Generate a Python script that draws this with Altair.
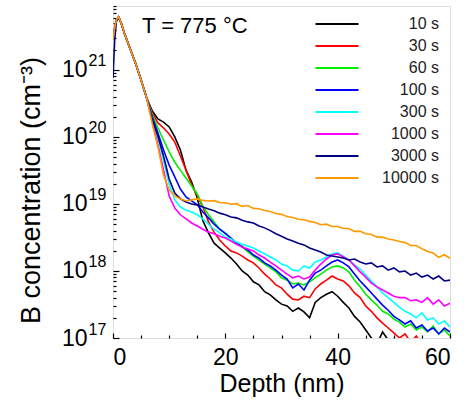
import altair as alt
import pandas as pd

SERIES = ["10 s", "30 s", "60 s", "100 s", "300 s", "1000 s", "3000 s", "10000 s"]
COLORS = ["#000000", "#ff0000", "#00ee00", "#0000ff", "#00ffff", "#ff00ff", "#000080", "#ff9900"]

# near-surface part (shared by all anneals)
HEAD_DEPTH = [0, 0.3, 0.6, 1.0, 1.5, 2, 3, 4, 5, 6]
HEAD_CONC = [2.8e21, 4.2e21, 5.6e21, 6.2e21, 4.9e21, 3.6e21, 2.13e21, 1.27e21, 7.1e20, 3.8e20]
HEAD_CONC_3000 = [7.6e20, 2.8e21, 5.3e21, 6.0e21, 4.9e21, 3.6e21, 2.13e21, 1.27e21, 7.1e20, 3.8e20]

TAIL_DEPTH = [7, 8, 9, 10, 11, 12, 13, 14, 15, 16, 17, 18, 19, 20, 21, 22, 23, 24, 25, 26,
              27, 28, 29, 30, 31, 32, 33, 34, 35, 36, 37, 38, 39, 40, 41, 42, 43, 44, 45, 46,
              47, 48, 49, 50, 51, 52, 53, 54, 55, 56, 57, 58, 59, 60]

C_10 = [2.44e20, 1.86e20, 1.67e20, 1.41e20, 1.0e20, 6.4e19, 3.2e19, 2.13e19, 1.23e19, 5.6e18,
        3.7e18, 2.6e18, 2.2e18, 1.86e18, 1.56e18, 1.27e18, 1.0e18, 8.7e17, 6.9e17, 6.2e17,
        4.9e17, 4.4e17, 3.7e17, 3.2e17, 3.0e17, 2.5e17, 2.8e17, 2.45e17, 2.0e17, 3.4e17,
        4.0e17, 4.5e17, 4.9e17, 4.2e17, 3.4e17, 2.8e17, 2.1e17, 1.73e17, 1.32e17, 1.0e17,
        8.1e16, 1.23e17, 9.3e16, 6.6e16, 5.0e16]
C_30 = [2.28e20, 1.62e20, 1.36e20, 1.11e20, 8.4e19, 5.2e19, 3.2e19, 1.92e19, 1.32e19, 9.0e18,
        5.4e18, 3.8e18, 2.9e18, 2.36e18, 1.99e18, 1.86e18, 1.67e18, 1.46e18, 1.32e18, 1.11e18,
        9.0e17, 7.6e17, 6.2e17, 5.6e17, 4.5e17, 3.8e17, 3.7e17, 4.2e17, 4.0e17, 5.4e17,
        6.4e17, 7.3e17, 8.4e17, 7.6e17, 7.1e17, 6.0e17, 4.7e17, 4.0e17, 3.0e17, 2.5e17,
        2.0e17, 1.67e17, 1.41e17, 1.19e17, 1.0e17, 1.15e17, 8.7e16, 1.07e17, 7.9e16, 6.6e16]
C_60 = [2.13e20, 1.36e20, 9.0e19, 6.0e19, 4.2e19, 3.2e19, 2.44e19, 1.86e19, 1.41e19, 9.3e18,
        6.9e18, 5.4e18, 4.2e18, 3.7e18, 3.1e18, 2.5e18, 2.36e18, 1.92e18, 1.67e18, 1.46e18,
        1.27e18, 1.11e18, 9.7e17, 7.9e17, 7.3e17, 6.4e17, 6.6e17, 6.2e17, 6.9e17, 7.9e17,
        9.0e17, 1.03e18, 1.15e18, 1.19e18, 1.11e18, 9.7e17, 7.3e17, 5.8e17, 4.5e17, 3.7e17,
        3.1e17, 2.5e17, 2.28e17, 1.92e17, 1.73e17, 1.46e17, 1.62e17, 1.32e17, 1.46e17, 1.23e17,
        1.51e17, 1.15e17, 1.32e17, 1.07e17]
C_100 = [1.99e20, 1.15e20, 6.4e19, 3.8e19, 2.53e19, 1.67e19, 1.27e19, 1.11e19, 9.7e18, 7.6e18,
         6.2e18, 5.0e18, 4.2e18, 3.6e18, 3.1e18, 2.6e18, 2.28e18, 2.06e18, 1.73e18, 1.56e18,
         1.32e18, 1.19e18, 1.03e18, 8.7e17, 7.6e17, 5.6e17, 6.4e17, 5.2e17, 7.3e17, 9.3e17,
         1.03e18, 1.19e18, 1.36e18, 1.46e18, 1.32e18, 1.15e18, 9.0e17, 7.1e17, 5.8e17, 4.7e17,
         3.8e17, 3.1e17, 2.6e17, 2.1e17, 1.86e17, 1.62e17, 1.8e17, 1.41e17, 1.56e17, 1.27e17,
         1.41e17, 1.15e17, 1.41e17, 1.23e17]
C_300 = [1.8e20, 9.7e19, 4.5e19, 1.99e19, 1.15e19, 9.0e18, 8.1e18, 7.6e18, 6.9e18, 6.0e18,
         5.0e18, 4.2e18, 3.7e18, 3.2e18, 3.0e18, 2.7e18, 2.5e18, 2.36e18, 2.2e18, 1.99e18,
         1.8e18, 1.62e18, 1.46e18, 1.27e18, 1.19e18, 1.03e18, 1.0e18, 1.19e18, 1.11e18, 1.36e18,
         1.46e18, 1.62e18, 1.8e18, 1.86e18, 1.67e18, 1.46e18, 1.23e18, 1.07e18, 8.7e17, 7.1e17,
         5.8e17, 4.7e17, 4.0e17, 3.4e17, 2.9e17, 2.5e17, 2.28e17, 2.0e17, 2.36e17, 1.86e17,
         2.0e17, 1.62e17, 1.8e17, 1.46e17]
C_1000 = [1.67e20, 7.6e19, 3.2e19, 1.32e19, 8.7e18, 6.9e18, 6.0e18, 5.2e18, 4.7e18, 4.2e18,
          3.8e18, 3.6e18, 3.3e18, 3.1e18, 2.8e18, 2.5e18, 2.28e18, 2.13e18, 1.99e18, 1.73e18,
          1.56e18, 1.36e18, 1.19e18, 1.03e18, 9.0e17, 7.9e17, 8.4e17, 7.6e17, 8.1e17, 1.03e18,
          1.27e18, 1.51e18, 1.73e18, 1.8e18, 1.62e18, 1.46e18, 1.19e18, 9.7e17, 8.1e17, 6.6e17,
          5.8e17, 5.2e17, 4.7e17, 4.2e17, 4.0e17, 4.0e17, 3.6e17, 3.7e17, 3.4e17, 4.0e17,
          3.2e17, 3.7e17, 3.0e17, 3.3e17]
C_3000 = [1.8e20, 1.03e20, 5.2e19, 2.36e19, 1.46e19, 1.19e19, 1.07e19, 1.0e19, 9.7e18, 9.0e18,
          8.4e18, 7.9e18, 7.3e18, 6.9e18, 6.4e18, 6.2e18, 5.7e18, 5.4e18, 5.2e18, 4.7e18,
          4.4e18, 4.0e18, 3.6e18, 3.3e18, 3.0e18, 2.8e18, 2.6e18, 2.45e18, 2.2e18, 2.06e18,
          1.92e18, 1.73e18, 1.67e18, 1.62e18, 1.56e18, 1.46e18, 1.51e18, 1.36e18, 1.27e18, 1.32e18,
          1.15e18, 1.19e18, 1.03e18, 1.11e18, 9.7e17, 1.0e18, 8.7e17, 9.3e17, 8.1e17, 8.7e17,
          7.6e17, 8.4e17, 7.1e17, 7.3e17]
C_10000 = [1.56e20, 7.1e19, 2.7e19, 1.62e19, 1.32e19, 1.19e19, 1.12e19, 1.15e19, 1.19e19, 1.13e19,
           1.11e19, 1.12e19, 1.05e19, 1.04e19, 9.9e18, 1.01e19, 9.2e18, 9.5e18, 8.6e18, 8.5e18,
           8.0e18, 7.7e18, 7.2e18, 7.0e18, 6.5e18, 6.3e18, 5.9e18, 5.8e18, 5.5e18, 5.3e18,
           4.9e18, 5.0e18, 4.6e18, 4.6e18, 4.3e18, 4.3e18, 3.9e18, 3.9e18, 3.6e18, 3.5e18,
           3.2e18, 3.2e18, 3.0e18, 2.9e18, 2.75e18, 2.65e18, 2.4e18, 2.4e18, 2.15e18, 1.95e18,
           1.85e18, 1.6e18, 1.75e18, 1.55e18]

TAILS = [C_10, C_30, C_60, C_100, C_300, C_1000, C_3000, C_10000]
HEADS = [HEAD_CONC] * 6 + [HEAD_CONC_3000, HEAD_CONC]

Y_MAJOR = [1e17, 1e18, 1e19, 1e20, 1e21]
Y_MINOR = [m * 10 ** e for e in range(17, 22) for m in range(2, 10)]
X_MAJOR = [0, 20, 40, 60]
X_MINOR = [5, 10, 15, 25, 30, 35, 45, 50, 55]

rows = []
for name, head, tail in zip(SERIES, HEADS, TAILS):
    for d, c in zip(HEAD_DEPTH, head):
        rows.append({"series": name, "depth": d, "conc": c})
    for d, c in zip(TAIL_DEPTH, tail):
        rows.append({"series": name, "depth": d, "conc": c})
df = pd.DataFrame(rows)

FONT = "Liberation Sans"
xscale = alt.Scale(domain=[0, 60], nice=False, zero=False)
yscale = alt.Scale(type="log", domain=[1e17, 9e21], nice=False)

lines = alt.Chart(df).mark_line(strokeWidth=1.6, clip=True).encode(
    x=alt.X("depth:Q", scale=xscale,
            axis=alt.Axis(values=X_MAJOR, orient="bottom", offset=-5, tickSize=5, tickWidth=1.2,
                          tickColor="black", domain=False, grid=False, labelFontSize=23,
                          labelFont=FONT, labelColor="black", labelPadding=8, format="d",
                          title="Depth (nm)", titleFont=FONT, titleFontSize=25,
                          titleFontWeight="normal", titleColor="black",
                          titleBaseline="alphabetic", titleAlign="center", titleY=58)),
    y=alt.Y("conc:Q", scale=yscale,
            axis=alt.Axis(values=Y_MAJOR, orient="left", offset=-6, tickSize=6, tickWidth=1.2,
                          tickColor="black", domain=False, grid=False, labelExpr="'10'",
                          labelFontSize=23, labelFont=FONT, labelColor="black", labelPadding=26,
                          title="B concentration (cm⁻³)", titleFont=FONT, titleFontSize=27,
                          titleFontWeight="normal", titleColor="black", titleAngle=270,
                          titleBaseline="alphabetic", titleAlign="center",
                          titleX=-80, titleY=184)),
    color=alt.Color("series:N", scale=alt.Scale(domain=SERIES, range=COLORS),
                    legend=alt.Legend(title=None, orient="none", legendX=212, legendY=6,
                                      padding=0, symbolType="M-2,0H2", symbolSize=462,
                                      symbolStrokeWidth=2, labelFont=FONT, labelFontSize=16,
                                      labelColor="#222222", labelAlign="right", labelOffset=90,
                                      labelLimit=200, rowPadding=2)),
)

minor = alt.Chart(df).mark_point(opacity=0).encode(
    x=alt.X("depth:Q", scale=xscale,
            axis=alt.Axis(values=X_MINOR, orient="bottom", offset=-3, tickSize=3, tickWidth=1.2,
                          tickColor="black", domain=False, grid=False, labels=False, title=None)),
    y=alt.Y("conc:Q", scale=yscale,
            axis=alt.Axis(values=Y_MINOR, orient="left", offset=-3, tickSize=3, tickWidth=1.2,
                          tickColor="black", domain=False, grid=False, labels=False, title=None)),
)

exponents = alt.Chart(df).mark_point(opacity=0).encode(
    y=alt.Y("conc:Q", scale=yscale,
            axis=alt.Axis(values=Y_MAJOR, orient="left", offset=0, ticks=False, tickSize=0,
                          domain=False, grid=False,
                          labelExpr="'' + round(log(datum.value) / LN10)",
                          labelFont=FONT, labelFontSize=16, labelColor="black",
                          labelAlign="left", labelPadding=25, labelOffset=-9, title=None)),
)

label_df = pd.DataFrame({"t": ["T = 775 °C"]})
annot = alt.Chart(label_df).mark_text(font=FONT, fontSize=22, align="left", baseline="alphabetic",
                                      color="black").encode(
    x=alt.value(29), y=alt.value(27), text="t:N")

chart = alt.layer(lines, minor, exponents, annot).resolve_axis(
    x="independent", y="independent").properties(
    width=337, height=332,
    autosize=alt.AutoSizeParams(type="none"),
    padding={"left": 113, "top": 6, "right": 18, "bottom": 64},
).configure_view(stroke="black", strokeWidth=1.5).configure(background="white")

chart.save("out.html", embed_options={"renderer": "svg", "actions": False})
